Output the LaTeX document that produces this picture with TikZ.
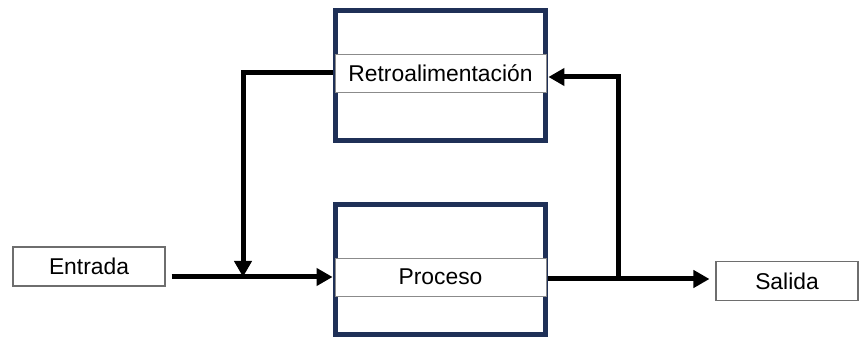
\documentclass[tikz,border=0pt]{standalone}
\usepackage{fontspec}
\setmainfont{Liberation Sans}
\usetikzlibrary{arrows.meta}
\definecolor{navy}{RGB}{31,48,87}
\definecolor{frameGray}{RGB}{110,110,110}
\tikzset{
  frame/.style={draw=navy, line width=0.1cm, fill=white, minimum width=4.22cm, minimum height=2.62cm},
  label/.style={draw=frameGray!80, line width=0.5pt, fill=white, minimum width=4.22cm, minimum height=0.76cm, font=\fontsize{13}{15}\selectfont},
  io/.style={draw=frameGray, line width=0.6pt, fill=white, minimum height=0.78cm, font=\fontsize{13}{15}\selectfont},
  flow/.style={line width=0.1cm, -{Triangle[length=0.32cm, width=0.34cm]}},
}
\begin{document}
\begin{tikzpicture}[x=0.02cm, y=-0.02cm, every node/.style={inner sep=0pt}]
      \useasboundingbox (0,0) rectangle (860,337);

      % Frames & their labels
      \node[frame] (retroFrame) at (440.5,75.5) {};
      \node[frame] (procesoFrame) at (440.5,269.5) {};
      \node[label] (retro) at (440.5,73) {Retroalimentación};
      \node[label] (proceso) at (440.5,277) {Proceso};

      % Input and output
      \node[io, minimum width=3.04cm] (entrada) at (89,266.5) {Entrada};
      \node[io, minimum width=2.84cm] (salida) at (787,281) {Salida};

      % Branch points
      \coordinate (join) at (243,277);
      \coordinate (split) at (618,279);

      % Connectors
      \draw[flow] ([xshift=0.12cm]entrada.east |- proceso.west) -- ([xshift=-0.04cm]proceso.west);
      \draw[flow] ([xshift=-0.04cm]retro.west) -| (join);
      \draw[flow] ([xshift=0.04cm]proceso.east |- split) -- ([xshift=-0.12cm]salida.west |- split);
      \draw[flow] (split) |- ([xshift=0.04cm]retro.east |- 0,77);
    \end{tikzpicture}
\end{document}
